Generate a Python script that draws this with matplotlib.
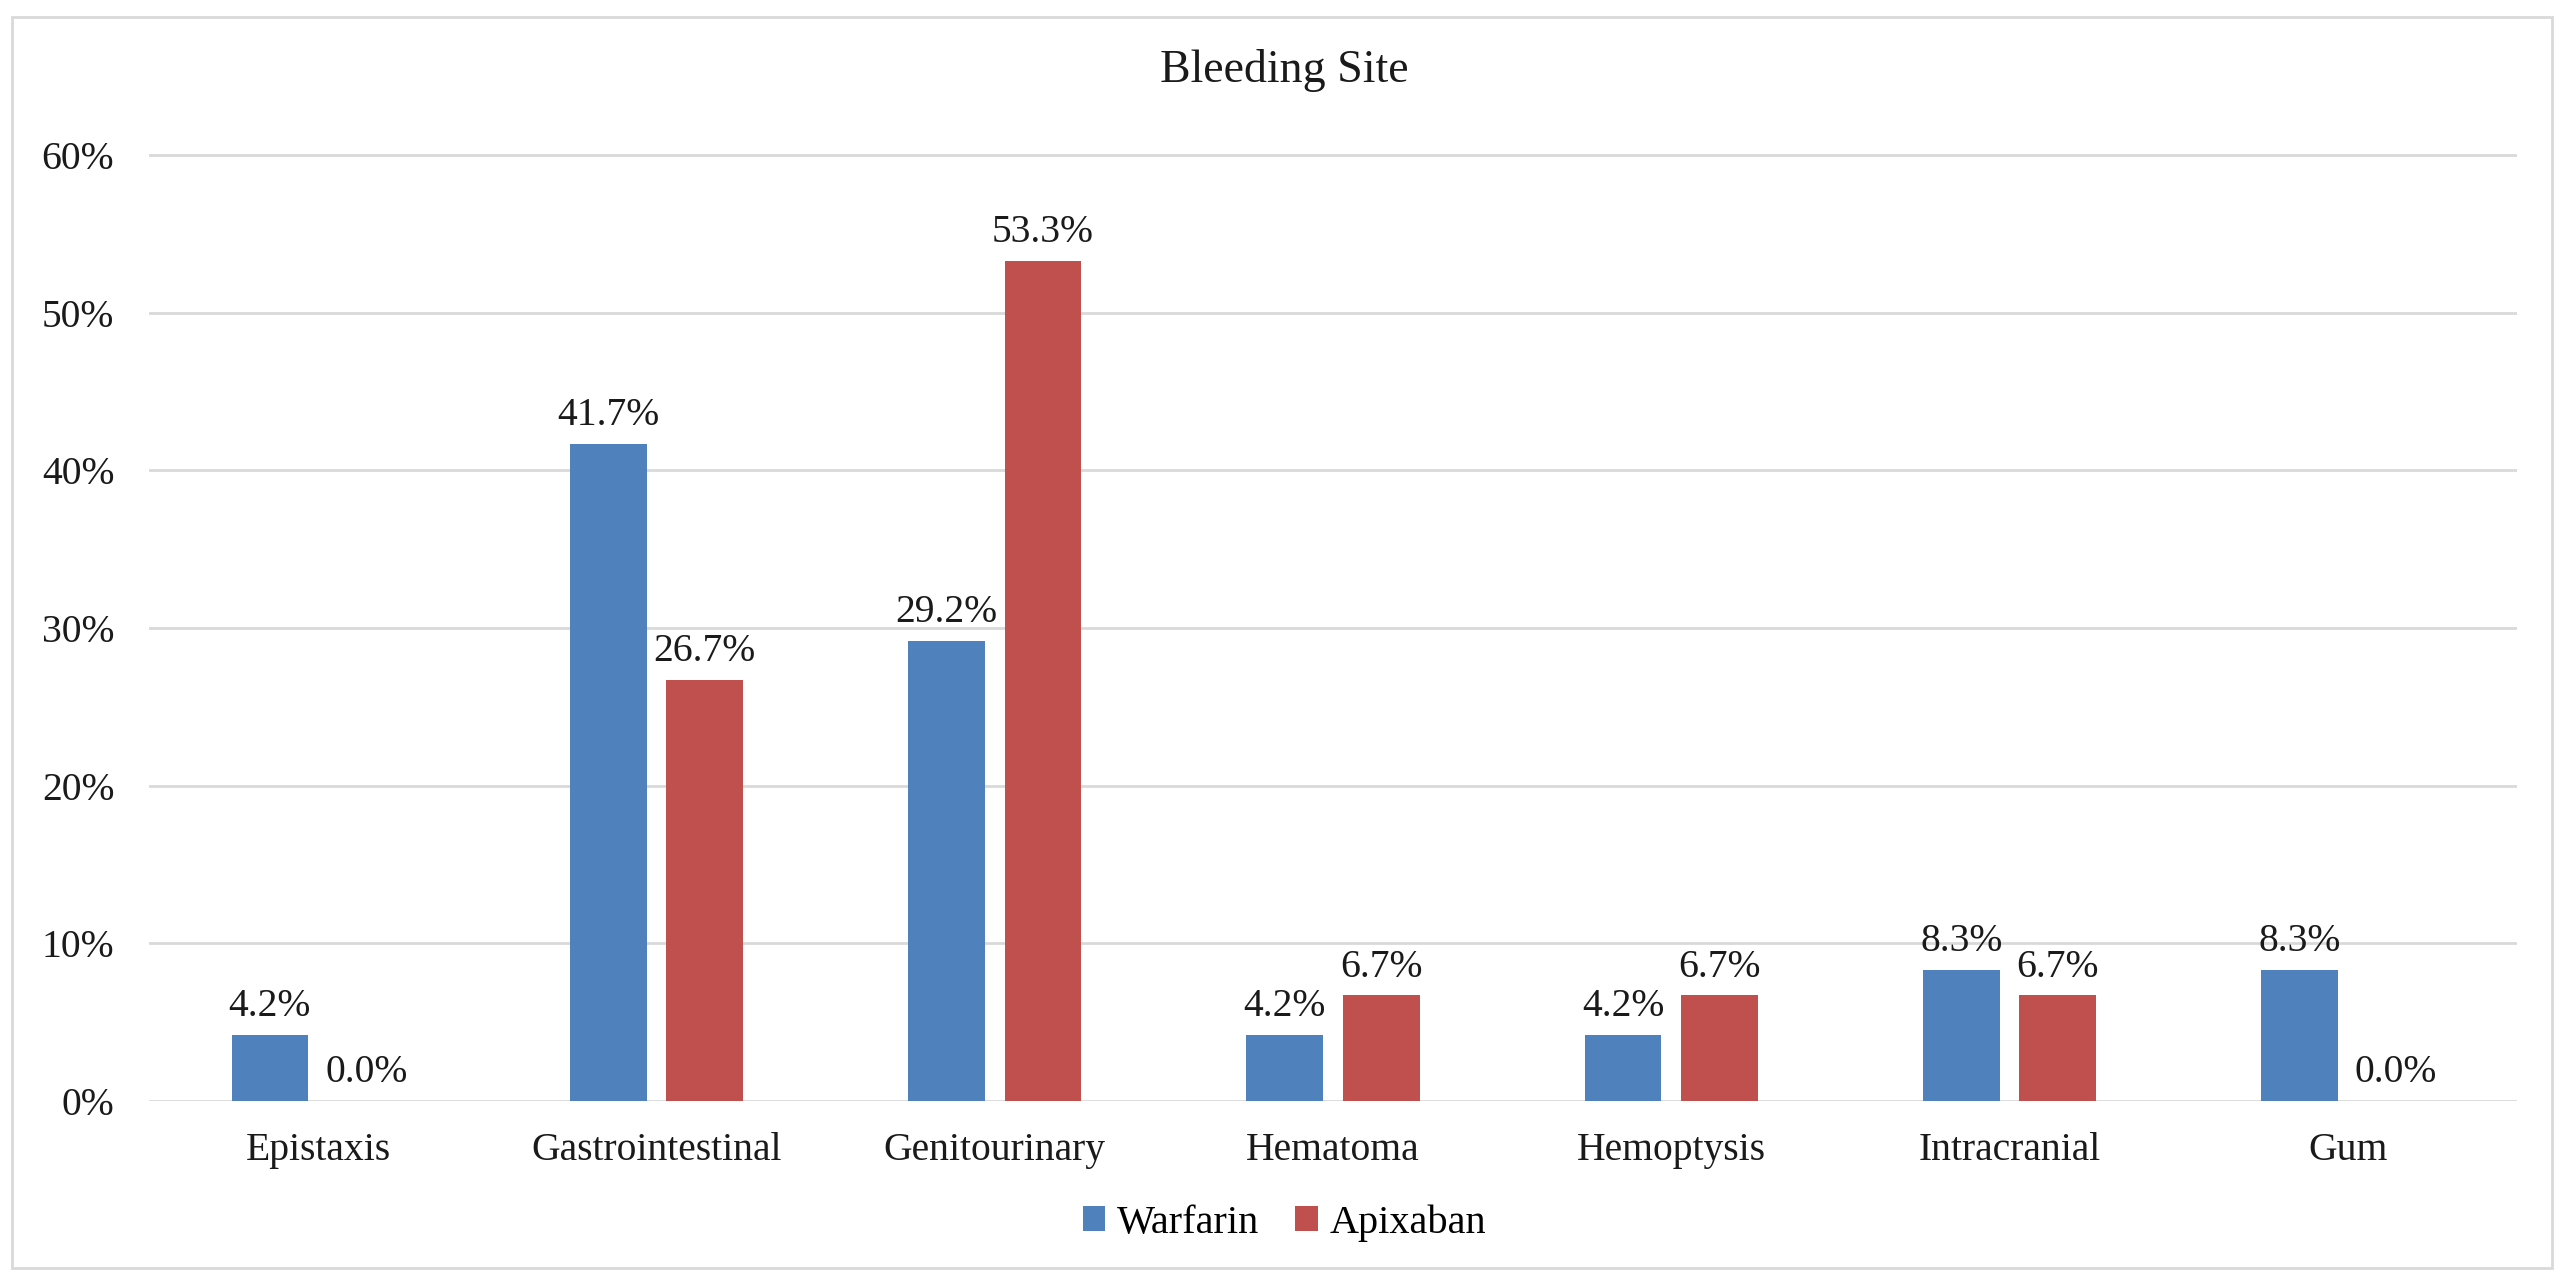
import matplotlib
matplotlib.use("Agg")
import matplotlib.pyplot as plt
from matplotlib.patches import Rectangle, Patch
import numpy as np

categories = ["Epistaxis", "Gastrointestinal", "Genitourinary", "Hematoma",
              "Hemoptysis", "Intracranial", "Gum"]
warfarin = [4.2, 41.7, 29.2, 4.2, 4.2, 8.3, 8.3]
apixaban = [0.0, 26.7, 53.3, 6.7, 6.7, 6.7, 0.0]
series_names = ["Warfarin", "Apixaban"]
yticks = [0, 10, 20, 30, 40, 50, 60]
title = "Bleeding Site"

BLUE = "#4F81BD"
RED = "#C0504D"
GRID = "#D9D9D9"
TXT = "#1a1a1a"

plt.rcParams["font.family"] = ["Liberation Serif", "DejaVu Serif"]

W, H = 2569, 1286
fig = plt.figure(figsize=(W / 100, H / 100), dpi=100)
fig.patch.set_facecolor("white")

# outer chart border
fig.patches.append(Rectangle((12 / W, 1 - 1268 / H), (2552 - 12) / W, (1268 - 17) / H,
                             transform=fig.transFigure, fill=False,
                             edgecolor=GRID, linewidth=2.0))

ytop = 60.3
px_per_unit = (1101 - 155) / 60.0
top_px = 1101 - ytop * px_per_unit
left, right = 149, 2517
ax = fig.add_axes([left / W, 1 - 1101 / H, (right - left) / W, (1101 - top_px) / H])
ax.set_xlim(-0.5, len(categories) - 0.5)
ax.set_ylim(0, ytop)

x = np.arange(len(categories))
bw = 0.227
off = (bw + 0.058) / 2
ax.bar(x - off, warfarin, bw, color=BLUE, zorder=3, label=series_names[0])
ax.bar(x + off, apixaban, bw, color=RED, zorder=3, label=series_names[1])

FS = 28.5
for xs, vals in ((x - off, warfarin), (x + off, apixaban)):
    for xi, v in zip(xs, vals):
        ax.annotate(f"{v:.1f}%", (xi, v), xytext=(0, 7), textcoords="offset points",
                    ha="center", va="bottom", fontsize=FS, color=TXT)

ax.set_yticks(yticks)
ax.set_yticklabels([f"{t}%" for t in yticks])
ax.set_xticks(x)
ax.set_xticklabels(categories)
ax.tick_params(axis="y", length=0, pad=25, labelsize=FS, labelcolor=TXT)
ax.tick_params(axis="x", length=0, pad=22, labelsize=FS, labelcolor=TXT)
ax.yaxis.grid(True, color=GRID, linewidth=2.0, zorder=0)
ax.set_axisbelow(True)
for s in ax.spines.values():
    s.set_visible(False)

fig.text(0.5, 1 - 70 / H, title, ha="center", va="center", fontsize=33, color=TXT)

handles = [Patch(facecolor=BLUE), Patch(facecolor=RED)]
fig.legend(handles, series_names, loc="center", bbox_to_anchor=(0.5, 1 - 1223 / H),
           ncol=2, frameon=False, fontsize=29, handlelength=0.55, handleheight=0.55,
           handletextpad=0.3, columnspacing=0.9)

fig.savefig("out.png", dpi=100, facecolor="white")
